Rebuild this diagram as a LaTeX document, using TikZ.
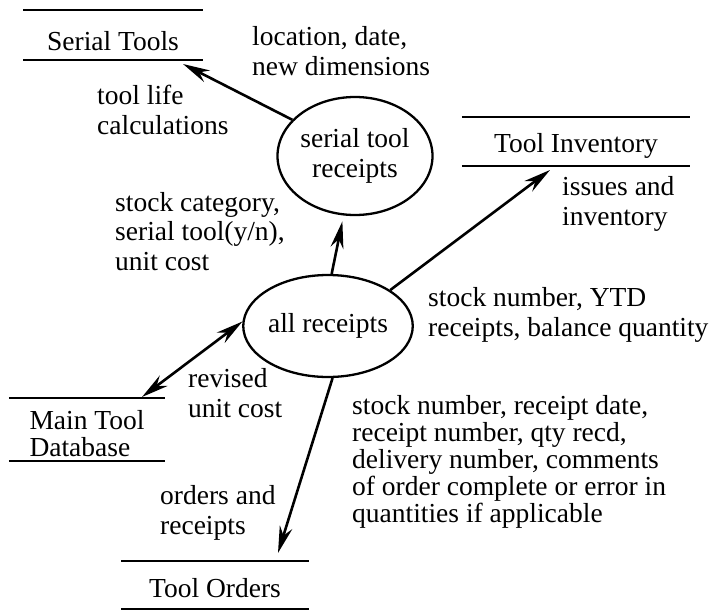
\documentclass[tikz,border=0pt]{standalone}
\usepackage{fontspec}
\setmainfont{Liberation Serif}
\usetikzlibrary{arrows.meta,shapes.geometric}

\begin{document}
\begin{tikzpicture}[
  x=1pt, y=-1pt,
  font=\fontsize{27.5}{29.5}\selectfont,
  >={Stealth[length=27pt, width=13pt]},
  proc/.style={draw, ellipse, line width=2.3pt, inner sep=0pt, align=center},
  store/.style={anchor=base, inner sep=0pt, align=center},
  sline/.style={line width=2.6pt},
  flow/.style={line width=2.6pt, ->},
  lbl/.style={anchor=base west, inner sep=0pt, align=left}
]
\useasboundingbox (0,0) rectangle (718,611);

% processes
\node[proc, minimum width=167pt, minimum height=102pt] (allr) at (328,326) {all receipts};
\node[proc, minimum width=155pt, minimum height=118pt] (srec) at (355,156) {serial tool\\receipts};

% data stores, two rules each (base = last line)
\node[store, minimum width=179pt] (serial) at (113,50) {Serial Tools};
\draw[sline] ([yshift=40pt]serial.base west) -- ([yshift=40pt]serial.base east)
             ([yshift=-10pt]serial.base west) -- ([yshift=-10pt]serial.base east);
\node[store, minimum width=228pt] (inv) at (576,152) {Tool Inventory};
\draw[sline] ([yshift=35pt]inv.base west) -- ([yshift=35pt]inv.base east)
             ([yshift=-14pt]inv.base west) -- ([yshift=-14pt]inv.base east);
\node[store, align=left, minimum width=156pt, font=\fontsize{27.5}{27}\selectfont] (maindb) at (87,456) {Main Tool\\Database};
\draw[sline] ([yshift=58pt]maindb.base west) -- ([yshift=58pt]maindb.base east)
             ([yshift=-5pt]maindb.base west) -- ([yshift=-5pt]maindb.base east);
\node[store, minimum width=187pt] (orders) at (215,597) {Tool Orders};
\draw[sline] ([yshift=36pt]orders.base west) -- ([yshift=36pt]orders.base east)
             ([yshift=-12pt]orders.base west) -- ([yshift=-12pt]orders.base east);

% where the flows meet the stores
\coordinate (serialIn) at (183,64);
\coordinate (invIn) at (550,170);
\coordinate (dbIn) at (142,397);
\coordinate (ordIn) at (278,553);

% data flows
\draw[flow] (srec.150) -- (serialIn);
\draw[flow] (allr.86) -- ([yshift=-6pt]srec.258);
\draw[flow] (allr.30) -- (invIn);
\draw[flow, <->] (allr.177) -- (dbIn);
\draw[flow] (allr.275) -- (ordIn);

% flow labels, placed at the baseline of their last line
\node[lbl] (locl) at (252,75) {location, date,\\new dimensions};
\node[lbl] (lifel) at (97,134) {tool life\\calculations};
\node[lbl] (catl) at (115,270) {stock category,\\serial tool(y/n),\\unit cost};
\node[lbl] (issl) at (562,225) {issues and\\inventory};
\node[lbl] (ytdl) at (428,336) {stock number, YTD\\receipts, balance quantity};
\node[lbl] (costl) at (188,417) {revised\\unit cost};
\node[lbl, font=\fontsize{27.5}{27}\selectfont] (recl) at (352,522)
  {stock number, receipt date,\\receipt number, qty recd,\\delivery number, comments\\of order complete or error in\\quantities if applicable};
\node[lbl] (ordl) at (160,534) {orders and\\receipts};
\end{tikzpicture}
\end{document}
